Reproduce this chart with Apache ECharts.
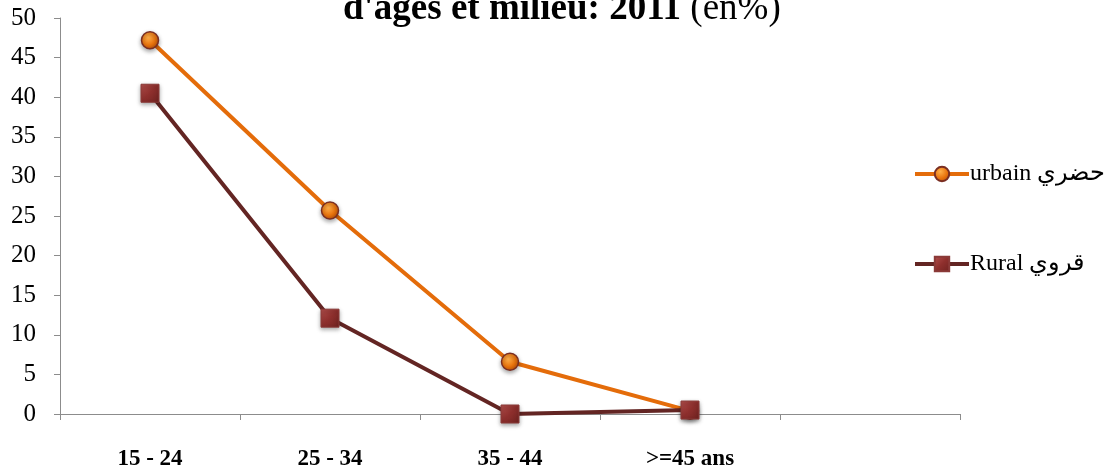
<!DOCTYPE html>
<html><head><meta charset="utf-8">
<script src="https://cdn.jsdelivr.net/npm/echarts@6/dist/echarts.min.js"></script>
<style>html,body{margin:0;padding:0;background:#fff}#c{width:1112px;height:465px}</style>
</head><body><div id="c"></div>
<script>
const categories = ['15 - 24', '25 - 34', '35 - 44', '>=45 ans', ''];
const urbain = [47.2, 25.7, 6.6, 0.4];
const rural = [40.5, 12.1, 0.0, 0.5];
const yTicks = {min: 0, max: 50, interval: 5};
const names = ['urbain حضري', 'Rural قروي'];

const chart = echarts.init(document.getElementById('c'));
const serif = '"Liberation Serif", "DejaVu Serif", serif';
chart.setOption({
  animation: false,
  backgroundColor: '#fff',
  title: {
    left: 338, top: -14,
    text: "{b|d'âges et milieu: 2011 }{n|(en%)}",
    textStyle: {
      rich: {
        b: {fontFamily: serif, fontSize: 37, fontWeight: 'bold', color: '#000'},
        n: {fontFamily: serif, fontSize: 37, fontWeight: 'normal', color: '#000'}
      }
    }
  },
  grid: {left: 60, right: 152, top: 18, bottom: 51, containLabel: false, outerBoundsMode: 'none'},
  legend: {
    orient: 'vertical', left: 908, top: 157, itemGap: 66,
    itemWidth: 54, itemHeight: 18,
    textStyle: {fontFamily: serif, fontSize: 24, color: '#000', padding: [0,0,0,-4]},
    lineStyle: {width: 4},
    data: names
  },
  xAxis: {
    type: 'category', data: categories, boundaryGap: true,
    axisLine: {lineStyle: {color: '#8c8c8c', width: 1}},
    axisTick: {show: true, alignWithLabel: false, length: 6, lineStyle: {color: '#8c8c8c'}},
    axisLabel: {margin: 34, fontFamily: serif, fontSize: 23, fontWeight: 'bold', color: '#000', interval: 0},
    splitLine: {show: false}
  },
  yAxis: {
    type: 'value', min: yTicks.min, max: yTicks.max, interval: yTicks.interval,
    axisLine: {show: true, lineStyle: {color: '#8c8c8c', width: 1}},
    axisTick: {show: true, length: 6, lineStyle: {color: '#8c8c8c'}},
    axisLabel: {margin: 24, fontFamily: serif, fontSize: 25, color: '#000'},
    splitLine: {show: false}
  },
  series: [
    {
      name: names[0], type: 'line', data: urbain,
      symbol: 'circle', symbolSize: 17,
      lineStyle: {color: '#E46C0A', width: 4},
      itemStyle: {
        color: {type: 'radial', x: 0.4, y: 0.35, r: 0.7, colorStops: [
          {offset: 0, color: '#FFB04A'}, {offset: 0.6, color: '#E8720C'}, {offset: 1, color: '#B4500A'}]},
        borderColor: '#7A2E22', borderWidth: 1.5,
        shadowBlur: 4, shadowColor: 'rgba(0,0,0,0.35)', shadowOffsetY: 2
      },
      z: 2
    },
    {
      name: names[1], type: 'line', data: rural,
      symbol: 'rect', symbolSize: 18,
      lineStyle: {color: '#632523', width: 4},
      itemStyle: {
        color: {type: 'linear', x: 0, y: 0, x2: 1, y2: 1, colorStops: [
          {offset: 0, color: '#B5504D'}, {offset: 0.5, color: '#8E2F2D'}, {offset: 1, color: '#6E2220'}]},
        borderColor: '#8A3A38', borderWidth: 1,
        shadowBlur: 4, shadowColor: 'rgba(0,0,0,0.35)', shadowOffsetY: 2
      },
      z: 3
    }
  ]
});
</script></body></html>
